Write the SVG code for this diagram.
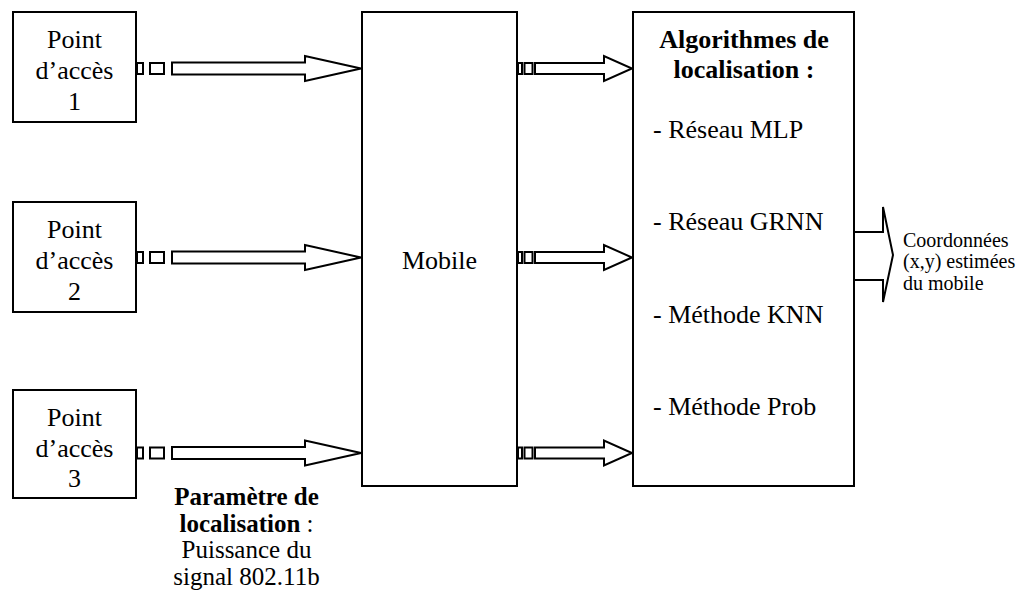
<svg xmlns="http://www.w3.org/2000/svg" width="1024" height="601" viewBox="0 0 1024 601" font-family="'Liberation Serif', 'Times New Roman', 'DejaVu Serif', serif">
  <style>
    .box { fill: #ffffff; stroke: #000000; stroke-width: 2; }
    .arw { fill: #ffffff; stroke: #000000; stroke-width: 2; stroke-linejoin: miter; }
    text { font-family: 'Liberation Serif', 'Times New Roman', 'DejaVu Serif', serif; fill: #000000; }
    .t { font-size: 26px; }
    .c { text-anchor: middle; }
    .b { font-weight: bold; }
    .s { font-size: 20px; }
    .p { font-size: 25px; }
  </style>
  <defs>
    <!-- block arrow with dashed tail: two small squares then a hollow shaft and head, centred on y=0 -->
    <g id="arrowAP">
      <rect class="arw" x="137" y="-5.5" width="6" height="11"/>
      <rect class="arw" x="150" y="-5.5" width="14" height="11"/>
      <path class="arw" d="M172,-6 H305 V-12.5 L361,0 L305,12.5 V6 H172 Z"/>
    </g>
    <g id="arrowMob">
      <rect class="arw" x="518" y="-5.5" width="4" height="11"/>
      <rect class="arw" x="524.5" y="-5.5" width="8" height="11"/>
      <path class="arw" d="M535,-5.5 H604 V-12.5 L632,0 L604,12.5 V5.5 H535 Z"/>
    </g>
  </defs>

  <!-- connectors -->
  <g id="connectors">
    <use href="#arrowAP" transform="translate(0,68.5)"/>
    <use href="#arrowAP" transform="translate(0,257.5)"/>
    <use href="#arrowAP" transform="translate(0,453)"/>
    <use href="#arrowMob" transform="translate(0,68.5)"/>
    <use href="#arrowMob" transform="translate(0,257.5)"/>
    <use href="#arrowMob" transform="translate(0,453)"/>
    <path id="out-arrow" class="arw" d="M854,232 H883 V207 L893,255 L883,302 V280 H854"/>
  </g>

  <g id="ap1">
    <rect class="box" x="13" y="12" width="123" height="110"/>
    <text class="t c" x="74.5" y="48">Point</text>
    <text class="t c" x="74.5" y="79">d’accès</text>
    <text class="t c" x="74.5" y="110">1</text>
  </g>
  <g id="ap2">
    <rect class="box" x="13" y="202" width="123" height="110"/>
    <text class="t c" x="74.5" y="238">Point</text>
    <text class="t c" x="74.5" y="269">d’accès</text>
    <text class="t c" x="74.5" y="300">2</text>
  </g>
  <g id="ap3">
    <rect class="box" x="13" y="390" width="123" height="108"/>
    <text class="t c" x="74.5" y="426">Point</text>
    <text class="t c" x="74.5" y="457">d’accès</text>
    <text class="t c" x="74.5" y="487">3</text>
  </g>

  <g id="mobile">
    <rect class="box" x="362" y="12" width="155" height="474"/>
    <text class="t c" x="439.5" y="269">Mobile</text>
  </g>

  <g id="algorithmes">
    <rect class="box" x="633" y="12" width="221" height="474"/>
    <text class="t c b" x="744" y="48">Algorithmes de</text>
    <text class="t c b" x="744" y="78">localisation :</text>
    <text class="t" x="653" y="138">- Réseau MLP</text>
    <text class="t" x="653" y="230">- Réseau GRNN</text>
    <text class="t" x="653" y="323">- Méthode KNN</text>
    <text class="t" x="653" y="415">- Méthode Prob</text>
  </g>

  <g id="sortie">
    <text class="s" x="903" y="247">Coordonnées</text>
    <text class="s" x="903" y="268">(x,y) estimées</text>
    <text class="s" x="903" y="290">du mobile</text>
  </g>

  <g id="parametre">
    <text class="p c" x="246.5" y="505"><tspan class="b">Paramètre de</tspan></text>
    <text class="p c" x="246.5" y="532"><tspan class="b">localisation</tspan> :</text>
    <text class="p c" x="246.5" y="558">Puissance du</text>
    <text class="p c" x="246.5" y="585">signal 802.11b</text>
  </g>
</svg>
